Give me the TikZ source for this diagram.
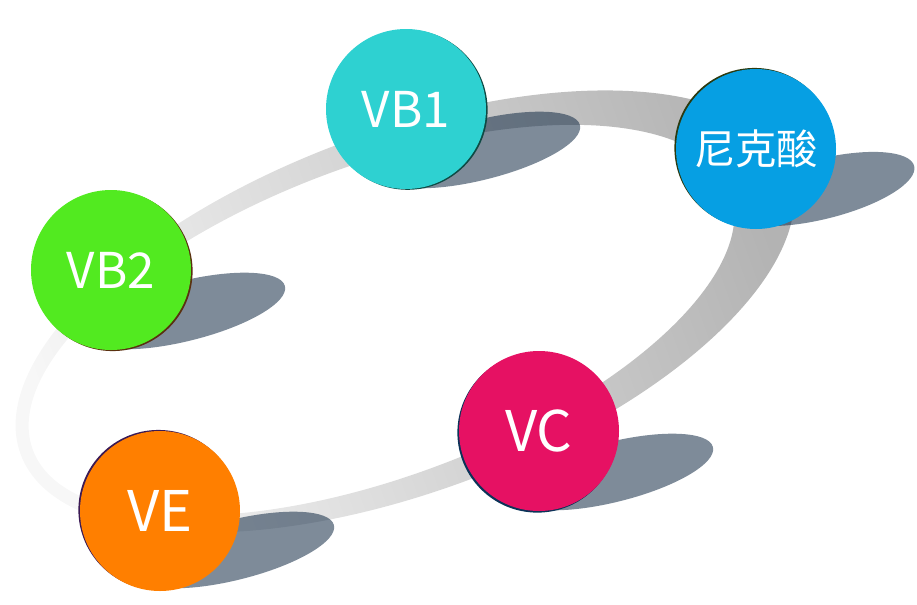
\documentclass[tikz,border=0pt]{standalone}
\usepackage{fontspec}
\newfontfamily\cjk{Noto Sans CJK SC}
\usetikzlibrary{shadows}

\definecolor{ballVB1}{HTML}{2ED1D1}
\definecolor{ballNK}{HTML}{069FE3}
\definecolor{ballVB2}{HTML}{52EA20}
\definecolor{ballVC}{HTML}{E61163}
\definecolor{ballVE}{HTML}{FF7F00}
\definecolor{rimVB1}{HTML}{0E4A44}
\definecolor{rimNK}{HTML}{2B3A10}
\definecolor{rimVB2}{HTML}{5A3010}
\definecolor{rimVC}{HTML}{0B3358}
\definecolor{rimVE}{HTML}{3B1A55}
\definecolor{shadowink}{RGB}{20,44,70}
\definecolor{ringlight}{HTML}{F7F7F7}
\definecolor{ringmid}{HTML}{CFCFCF}
\definecolor{ringdark}{HTML}{B3B3B3}

\tikzset{
  ball/.style={circle, minimum size=120pt, inner sep=0pt, text=white},
  rim/.style n args={3}{general shadow={fill=#1, shadow xshift=#2, shadow yshift=#3}},
  ring/.style={even odd rule, left color=ringlight, middle color=ringmid, right color=ringdark, shading angle=110},
  floorshadow/.style={fill=shadowink, fill opacity=0.55},
  bigtext/.style={font=\cjk\fontsize{37pt}{37pt}\selectfont},
  hugetext/.style={font=\cjk\fontsize{42pt}{42pt}\selectfont},
  hantext/.style={font=\cjk\fontsize{31pt}{31pt}\selectfont}
}

\begin{document}
\begin{tikzpicture}[x=0.75pt, y=-0.75pt]
  \clip (0,0) rectangle (917,604);
  % ring behind the balls
  \shade[ring, rotate around={20.4:(397,314.5)}]
    (405.5,314.5) ellipse [x radius=410, y radius=180]
    (380.5,314.5) ellipse [x radius=372, y radius=156];
  % shadows on the floor
  \fill[floorshadow, rotate around={14:(480,150)}] (480,150) ellipse [x radius=103, y radius=30];
  \fill[floorshadow, rotate around={14:(822,189)}] (822,189) ellipse [x radius=95, y radius=30];
  \fill[floorshadow, rotate around={14:(185,311)}] (185,311) ellipse [x radius=103, y radius=30];
  \fill[floorshadow, rotate around={14:(613,472)}] (613,472) ellipse [x radius=103, y radius=30];
  \fill[floorshadow, rotate around={14:(234,550)}] (234,550) ellipse [x radius=103, y radius=30];
  % balls
  \node[ball, bigtext, fill=ballVB1, rim={rimVB1}{1.2pt}{-0.6pt}] (vb1) at (406,109) {VB1};
  \node[ball, hantext, fill=ballNK, rim={rimNK}{-1.2pt}{0.8pt}] (nk) at (756,149) {尼克酸};
  \node[ball, bigtext, fill=ballVB2, rim={rimVB2}{1.2pt}{-0.8pt}] (vb2) at (111,270) {VB2};
  \node[ball, hugetext, fill=ballVC, rim={rimVC}{-1.2pt}{-1.2pt}] (vc) at (539,431) {VC};
  \node[ball, hugetext, fill=ballVE, rim={rimVE}{-1.2pt}{0.8pt}] (ve) at (160,511) {VE};
\end{tikzpicture}
\end{document}
